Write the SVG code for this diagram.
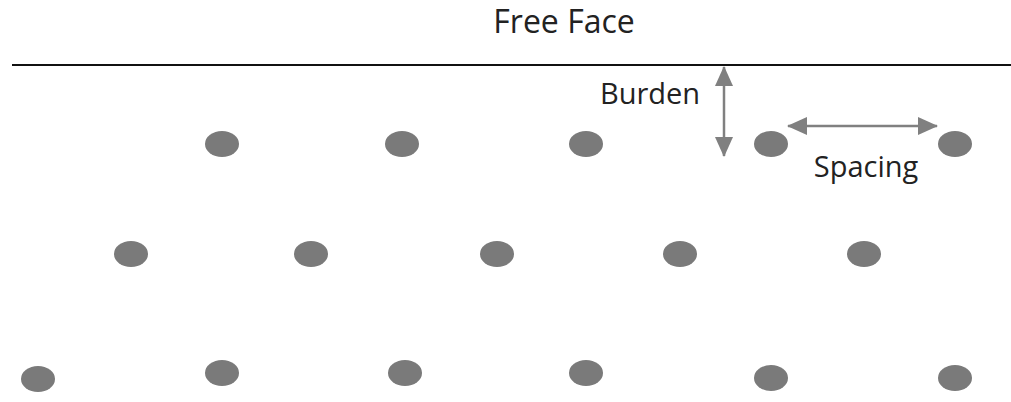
<svg xmlns="http://www.w3.org/2000/svg" width="1011" height="402" viewBox="0 0 1011 402">
<style>
.hole{fill:#7a7a7a;}
.lbl{font-family:"Open Sans","Liberation Sans",sans-serif;fill:#222;}
.dim{stroke:#808080;stroke-width:2.5;fill:none;}
</style>
<defs>
<marker id="ah" markerUnits="userSpaceOnUse" markerWidth="20" markerHeight="18" viewBox="0 0 20 18" refX="19" refY="9" orient="auto-start-reverse">
<path d="M0,0 L20,9 L0,18 Z" fill="#808080"/>
</marker>
</defs>
<rect width="1011" height="402" fill="#fff"/>
<g id="free-face">
<line x1="12" y1="65" x2="1011" y2="65" stroke="#111" stroke-width="2"/>
<text class="lbl" x="564" y="33" font-size="32" text-anchor="middle">Free Face</text>
</g>
<g id="connectors">
<line class="dim" x1="724" y1="67" x2="724" y2="156" marker-start="url(#ah)" marker-end="url(#ah)"/>
<line class="dim" x1="788" y1="126" x2="937" y2="126" marker-start="url(#ah)" marker-end="url(#ah)"/>
</g>
<g id="burden-label"><text class="lbl" x="650" y="104" font-size="29" text-anchor="middle">Burden</text></g>
<g id="spacing-label"><text class="lbl" x="866" y="177" font-size="29" text-anchor="middle">Spacing</text></g>
<g id="row1">
<ellipse class="hole" cx="222" cy="144" rx="17" ry="13"/>
<ellipse class="hole" cx="402" cy="144" rx="17" ry="13"/>
<ellipse class="hole" cx="586" cy="144" rx="17" ry="13"/>
<ellipse class="hole" cx="771" cy="144" rx="17" ry="13"/>
<ellipse class="hole" cx="955" cy="144" rx="17" ry="13"/>
</g>
<g id="row2">
<ellipse class="hole" cx="131" cy="254" rx="17" ry="13"/>
<ellipse class="hole" cx="311" cy="254" rx="17" ry="13"/>
<ellipse class="hole" cx="497" cy="254" rx="17" ry="13"/>
<ellipse class="hole" cx="680" cy="254" rx="17" ry="13"/>
<ellipse class="hole" cx="864" cy="254" rx="17" ry="13"/>
</g>
<g id="row3">
<ellipse class="hole" cx="38" cy="379" rx="17" ry="13"/>
<ellipse class="hole" cx="222" cy="373" rx="17" ry="13"/>
<ellipse class="hole" cx="405" cy="373" rx="17" ry="13"/>
<ellipse class="hole" cx="586" cy="373" rx="17" ry="13"/>
<ellipse class="hole" cx="771" cy="378" rx="17" ry="13"/>
<ellipse class="hole" cx="955" cy="378" rx="17" ry="13"/>
</g>
</svg>
